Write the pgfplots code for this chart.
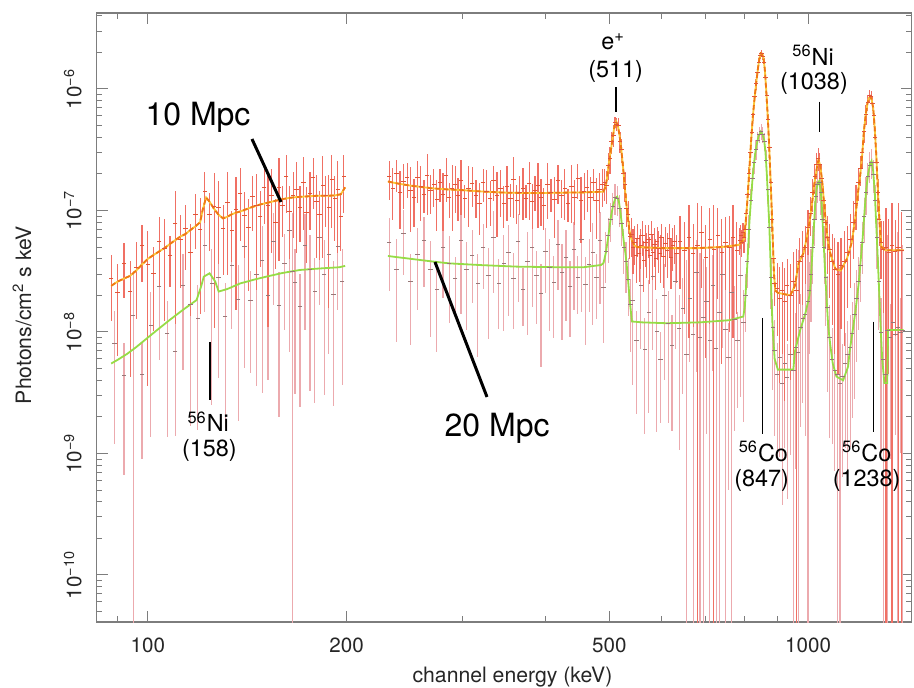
\documentclass[border=0pt]{standalone}
\usepackage{fontspec}
\setmainfont{TeX Gyre Heros}
\usepackage{pgfplots}
\usepackage{pgfplotstable}
\pgfplotsset{compat=1.18}

\definecolor{d10}{RGB}{240,112,100}
\definecolor{d10m}{RGB}{225,85,55}
\definecolor{d20}{RGB}{236,170,174}
\definecolor{d20m}{RGB}{150,120,120}
\definecolor{mod10}{RGB}{240,120,20}
\definecolor{mod10y}{RGB}{250,200,60}
\definecolor{mod20}{RGB}{150,220,70}
\definecolor{axgray}{RGB}{125,125,125}

% 10 Mpc data: E (keV), F (1e-9 photons/cm^2 s keV), s = relative error
\pgfplotstableread{
E F s
88 27.6 .55
90 21.3 .70
92 36.3 .48
94 21.5 .80
96 33.9 .62
98 51.1 .50
100 36.0 .90
102 30.1 .66
104 56.1 .58
106 49.0 .75
108 42.4 .45
110 77.5 .85
112 57.3 .60
114 71.7 .55
116 45.5 .70
118 93.2 .48
120 70.4 .80
122 144 .45
124 92 .50
126 107 .90
128 106 .66
130 70.5 .58
132 117.5 .75
134 68.8 .45
136 101.8 .85
138 139 .60
140 90.9 .55
142 72.8 .70
144 130.5 .48
146 110 .80
148 89.6 .62
150 155 .50
152 109 .90
154 132 .66
156 79.2 .58
158 153.7 .75
160 109 .45
162 189 .50
164 99 .60
166 133 .55
168 148 .70
170 106.6 .48
172 171.6 .60
174 97 .62
176 139 .50
178 186 .45
180 118.8 .66
182 92.4 .58
184 161 .75
186 132 .45
188 105.6 .85
190 179.5 .60
192 125 .55
194 150 .70
196 89.8 .48
198 189 .50
232 189 .35
235 153 .45
238 201 .30
241 140.7 .50
244 172 .40
247 186 .32
250 147 .55
253 127 .42
256 186 .38
259 156.5 .48
262 136 .30
265 192.5 .52
268 145 .36
271 164 .35
274 124 .45
277 169 .30
280 135 .50
283 194 .40
286 128 .32
289 151.5 .55
292 163 .42
295 133 .38
298 176 .48
302 124.5 .30
306 153 .52
310 167 .36
314 133 .35
318 115 .45
322 169 .30
326 142.5 .50
330 125 .40
334 177 .32
338 134 .55
342 152 .42
346 115 .38
350 157 .48
354 126 .30
358 181 .52
362 120 .36
366 142 .35
370 153 .45
374 125 .30
378 167 .50
382 118 .40
386 146 .32
390 160 .55
394 128 .42
398 111 .38
403 165 .48
408 139.5 .30
413 123 .52
418 175 .36
423 133 .35
428 151 .45
433 115 .30
438 157 .50
443 127 .40
448 183 .32
453 121 .55
458 144 .42
463 156 .38
468 128 .48
473 170 .30
478 121 .52
483 150 .36
488 164 .35
492 170 .30
495 162 .30
498 236 .25
501 266 .25
504 367 .20
507 418 .20
510 535 .10
513 514 .12
516 499 .15
519 370 .20
522 318 .22
525 202 .25
528 163 .28
531 104.5 .30
534 92 .30
537 61 .35
540 64 .35
543 50 .40
546 55 .35
549 42.5 .40
552 59 .30
555 44.5 .42
558 52 .36
561 62 .32
564 39 .45
567 55 .38
570 46.5 .40
573 58 .30
576 43 .42
579 64 .28
582 45 .40
585 53 .35
588 40 .45
591 56 .30
594 49 .38
597 44 .42
600 60 .30
604 42 .45
608 54 .36
612 46.5 .40
616 59 .30
620 41 .45
624 51.5 .38
628 56 .35
632 44 .42
640 56 .60
650 47 .70
660 60 .85
670 44 .75
680 52 1.20
690 66 .65
700 41 .85
710 58 .80
720 48 1.30
730 62 .70
740 45 .88
750 55 .60
760 50 .80
770 60 .85
780 47 .70
788 57 .25
791 62 .22
794 55 .25
797 66 .20
800 60 .25
803 70 .22
806 95 .20
810 135 .18
814 200 .15
818 300 .15
822 440 .12
826 620 .12
830 860 .10
834 1100 .10
838 1380 .08
842 1650 .08
846 1900 .07
850 1960 .07
854 1850 .07
858 1650 .08
862 1250 .10
866 880 .10
870 560 .12
874 330 .15
878 170 .18
882 85 .22
886 40 .30
890 25 .35
898 23 .60
906 19 .80
914 22 .70
922 18 .85
930 24 .65
940 20 .80
950 26 .75
960 22 1.20
970 38 .55
980 42 .60
990 50 .50
1000 72 .40
1008 95 .35
1016 140 .30
1024 190 .28
1030 240 .25
1036 270 .22
1042 240 .25
1048 185 .28
1055 120 .32
1062 80 .40
1070 60 .50
1078 48 .60
1088 38 .70
1098 33 .80
1110 30 .85
1122 35 .70
1135 38 .80
1148 45 .65
1160 58 .60
1172 80 .50
1182 115 .40
1192 170 .30
1200 220 .28
1208 300 .25
1216 450 .20
1224 620 .18
1232 780 .15
1240 880 .12
1246 860 .12
1252 760 .14
1258 600 .16
1264 400 .20
1270 250 .25
1276 140 .30
1282 85 .40
1290 55 .50
1300 48 .70
1312 50 1.10
1325 45 .90
1340 52 1.20
1355 46 .80
1370 50 1.30
1385 47 1.05
}\dten

% 20 Mpc data
\pgfplotstableread{
E F s
89 8.0 .85
92 4.4 .85
95 13.7 1.3
98 4.5 .80
101 11.4 .88
104 23.5 .75
107 9.7 .86
110 6.9 .80
113 24.3 .80
116 16.9 .90
119 13 .88
122 52 .72
125 25.2 .90
128 28 .85
131 13.5 .88
134 35 .70
137 18.6 .90
140 51 .90
143 18.3 .75
146 29.7 .88
149 39 .92
152 20 .80
155 55.7 .70
158 16.5 .88
161 37 .72
164 69 .90
165.5 31.8 2.0
167 25.6 .88
170 16.2 .85
173 52 .80
176 32.8 .90
179 21.5 .88
182 60 .72
185 30 .90
188 43.8 .85
191 20.3 .88
194 51 .70
197 26 .86
232 54.6 .60
238 33.0 .75
244 65.0 .55
250 26.0 .70
256 43.3 .65
262 56.3 .58
268 32.5 .72
274 22.6 .70
280 50.0 .62
286 36.7 .68
292 27.4 .50
298 56.3 .75
304 32.5 .68
310 43.0 .60
316 25.0 .75
322 49.7 .55
328 29.0 .70
334 59.7 .65
340 25.1 .58
346 36.5 .72
352 45.0 .70
358 27.6 .62
364 55.2 .68
370 22.4 .50
376 37.8 .75
382 49.7 .68
388 29.2 .60
394 20.6 .75
400 46.2 .55
406 34.2 .70
412 25.6 .65
418 52.9 .58
424 30.7 .72
430 40.9 .70
436 23.9 .62
442 47.7 .68
448 28.0 .50
454 58.0 .75
460 24.6 .68
466 36.2 .60
472 45.4 .75
478 28.2 .55
484 56.8 .70
490 23.4 .65
494 46 .45
498 62 .40
502 85 .35
506 108 .30
510 128 .28
514 125 .28
518 104 .30
522 78 .35
526 50 .40
530 38 .45
534 27 .50
538 17 .60
542 18.3 .80
550 8.5 .75
558 24 .70
566 7.2 .80
574 14.4 .85
582 28.6 .75
590 10.1 .85
598 5.9 .70
606 20 .80
614 11.8 .85
622 7.7 .80
630 26 .72
638 10.7 .90
646 15.5 .80
654 6.5 5.0
662 19 .70
670 9.6 1.4
678 31 .85
686 9 4.0
694 13.2 2.0
702 18 .92
710 8.5 5.0
718 24 .80
726 7.3 6.0
734 14.6 2.5
742 29.5 .75
750 10.5 3.0
758 6.2 .92
766 21 1.8
774 12.7 .88
782 8.5 .72
790 29 .90
798 12 .85
804 20 .50
809 38 .40
814 70 .30
819 120 .25
824 185 .22
829 250 .20
834 320 .18
839 380 .16
844 425 .15
849 445 .15
854 420 .15
859 370 .17
864 260 .20
869 150 .25
874 72 .30
879 28 .45
884 11 .70
890 7 .80
898 4.5 .80
906 6.2 .85
914 3.8 .90
922 5.5 .80
930 4.2 .90
940 6.5 .85
950 4.8 5.0
958 7.5 .90
966 6.8 6.0
974 11 .85
982 13 .80
990 14 .90
1000 18 3.0
1004 22 .70
1010 30 .60
1016 50 .50
1022 85 .40
1028 130 .35
1034 165 .30
1040 170 .30
1046 140 .35
1052 85 .40
1058 50 .50
1064 28 .60
1070 16 .80
1078 9 .85
1088 6 .80
1098 4.8 .85
1108 4.5 6.0
1118 3.8 8.0
1128 4.3 .85
1138 5.5 .80
1148 6.5 .90
1158 7.5 .85
1166 9.8 .80
1175 14 .80
1184 19 .70
1192 26 .60
1200 35 .50
1208 55 .45
1216 90 .40
1224 140 .35
1232 190 .30
1240 235 .28
1248 250 .28
1256 200 .30
1264 120 .35
1272 60 .45
1280 26 .60
1290 10 .90
1300 6 3.0
1310 4.5 .90
1320 10.4 5.0
1332 9 .90
1344 12 4.0
1356 9.5 .85
1368 11 5.0
1380 10 .90
1390 10.4 4.0
}\dtw

% model 10 Mpc
\pgfplotstableread{
E F
88 24
90 26
92 27.5
94 29
96 32
98 36
100 40
102 43
104 46
106 49
108 53
110 57
112 61
114 64
116 69
118 74
120 80
121 100
122.5 128
124 118
126 103
128 92
130 86
132 89
134 93
136 96
138 98
140 101
144 107
148 112
152 116
156 120
160 124
164 127
168 129
172 130
176 131
180 132
186 132
192 133
196 136
199 155
}\mtenA
\pgfplotstableread{
E F
231 173
240 166
250 160
260 156
270 152
285 149
300 147
322 143
350 140
384 139
420 140
460 141
490 143
494 160
497 200
500 260
503 320
506 400
509 490
512 540
515 500
518 420
521 330
524 240
527 170
530 120
533 90
536 70
540 58
545 52
550 50
600 49
680 49
740 50
785 52
800 58
806 90
810 130
815 220
820 380
825 600
830 850
835 1150
840 1500
844 1780
848 1970
852 1950
856 1800
860 1450
864 1000
868 650
872 400
876 220
880 120
884 60
888 30
892 22
900 21
940 20
955 24
968 37
985 45
1000 68
1008 90
1015 120
1022 165
1028 200
1033 240
1037 260
1041 245
1046 210
1052 160
1058 110
1065 75
1072 55
1080 45
1090 38
1100 33
1120 32
1145 40
1165 55
1180 90
1190 140
1200 200
1208 290
1215 450
1222 600
1230 760
1236 840
1242 870
1248 820
1255 700
1261 500
1268 300
1274 170
1280 100
1286 65
1292 50
1310 47
1395 47
}\mtenB

% model 20 Mpc
\pgfplotstableread{
E F
88 5.5
90 5.9
93 6.6
96 7.5
100 9
104 10.7
108 12.6
113 15.2
118.5 18.3
120.5 24
121.5 28.5
124 30.4
126.5 26
128 21.5
132 22.6
138 25.1
145 27
151 28.5
160 30.6
170 32.4
182 33.3
195 34.1
199 35
}\mtwA
\pgfplotstableread{
E F
231 42.2
250 40
270 38
286 36.7
320 35.5
362 34.5
420 34.1
457 34.1
486 35.6
490 37
494 45
498 60
503 90
507 112
511 127
514 130
517 118
520 95
523 72
526 55
529 44
531 36.7
534 26
537 18
541 12.2
560 12
611 11.8
686 12
760 12.5
798 13.4
802 16
806 25
810 40
815 80
820 130
825 200
830 270
835 340
841 405
848 446
853 425
858 380
862 300
866 200
870 120
874 70
877 40
880 20
883 12
886 8.6
890 6
900 4.9
950 4.9
955 6.9
973 10.4
991 14.3
1005 20
1009 25
1015 45
1020 70
1025 110
1030 150
1035 170
1040 175
1046 140
1050 100
1055 60
1061 32
1067 18.3
1073 11
1080 8
1090 5.5
1104 4.3
1130 4.0
1150 5.2
1156 6.9
1167 9.8
1180 15
1193 25
1202 40
1210 60
1218 100
1225 150
1233 200
1241 240
1248 255
1255 210
1262 140
1268 80
1274 45
1280 25
1287 12
1295 6
1305 3.8
1318 3.8
1322 10.4
1395 10.4
}\mtwB

\begin{document}
\begin{tikzpicture}
\useasboundingbox (-48.25pt,-33pt) rectangle (408.75pt,311pt);
\begin{axis}[
  scale only axis, width=407.6pt, height=304.5pt,
  xmode=log, ymode=log,
  xmin=83.6, xmax=1435.6, ymin=4.1e-11, ymax=4.22e-6,
  xtick={100,200,500,1000}, xticklabels={100,200,500,1000},
  minor xtick={90,300,400,600,700,800,900},
  ytick={1e-10,1e-9,1e-8,1e-7,1e-6},
  yticklabels={10\textsuperscript{−10},10\textsuperscript{−9},10\textsuperscript{−8},10\textsuperscript{−7},10\textsuperscript{−6}},
  minor ytick={5e-11,6e-11,7e-11,8e-11,9e-11,2e-10,3e-10,4e-10,5e-10,6e-10,7e-10,8e-10,9e-10,2e-9,3e-9,4e-9,5e-9,6e-9,7e-9,8e-9,9e-9,2e-8,3e-8,4e-8,5e-8,6e-8,7e-8,8e-8,9e-8,2e-7,3e-7,4e-7,5e-7,6e-7,7e-7,8e-7,9e-7,2e-6,3e-6,4e-6},
  tick align=inside,
  major tick length=5.5pt, minor tick length=2.8pt,
  tick style={axgray, line width=0.5pt},
  axis line style={axgray, line width=0.6pt},
  tick label style={font=\fontsize{10.3}{12}\selectfont, text=black!85},
  xticklabel style={anchor=north, inner ysep=7.8pt},
  yticklabel style={rotate=90, anchor=south, inner ysep=7.25pt},
]
% 20 Mpc data
\addplot[only marks, mark=-, mark size=1.1pt, mark options={draw=d20m, line width=0.4pt},
  error bars/.cd, y dir=both, y explicit, error mark=none,
  error bar style={draw=d20, line width=0.6pt}]
  table[x=E, y expr=\thisrow{F}*1e-9,
        y error plus expr={\thisrow{F}*1e-9*\thisrow{s}},
        y error minus expr={\thisrow{F}*1e-9*min(\thisrow{s},0.9999)}] {\dtw};
% 10 Mpc data
\addplot[only marks, mark=-, mark size=1.1pt, mark options={draw=d10m, line width=0.45pt},
  error bars/.cd, y dir=both, y explicit, error mark=none,
  error bar style={draw=d10, line width=0.6pt}]
  table[x=E, y expr=\thisrow{F}*1e-9,
        y error plus expr={\thisrow{F}*1e-9*\thisrow{s}},
        y error minus expr={\thisrow{F}*1e-9*min(\thisrow{s},0.9999)}] {\dten};
% models
\addplot[mod20, line width=0.9pt] table[x=E, y expr=\thisrow{F}*1e-9] {\mtwA};
\addplot[mod20, line width=0.9pt] table[x=E, y expr=\thisrow{F}*1e-9] {\mtwB};
\addplot[mod10y, line width=0.9pt] table[x=E, y expr=\thisrow{F}*1e-9] {\mtenA};
\addplot[mod10y, line width=0.9pt] table[x=E, y expr=\thisrow{F}*1e-9] {\mtenB};
\addplot[mod10, line width=0.9pt, dash pattern=on 2.5pt off 1.5pt] table[x=E, y expr=\thisrow{F}*1e-9] {\mtenA};
\addplot[mod10, line width=0.9pt, dash pattern=on 2.5pt off 1.5pt] table[x=E, y expr=\thisrow{F}*1e-9] {\mtenB};

% annotations
\node[font=\fontsize{16}{19}\selectfont] at (rel axis cs:0.1245,0.8292) {10 Mpc};
\draw[line width=1.5pt] (rel axis cs:0.1907,0.7931) -- (rel axis cs:0.2263,0.6897);
\node[font=\fontsize{16}{19}\selectfont] at (rel axis cs:0.4914,0.3186) {20 Mpc};
\draw[line width=1.5pt] (rel axis cs:0.4152,0.5911) -- (rel axis cs:0.4790,0.3695);

\node[font=\fontsize{11.7}{14}\selectfont] at (rel axis cs:0.6336,0.9527) {e\textsuperscript{+}};
\node[font=\fontsize{11.7}{14}\selectfont] at (rel axis cs:0.6369,0.9036) {(511)};
\draw[line width=0.8pt] (rel axis cs:0.6373,0.8785) -- (rel axis cs:0.6373,0.8374);

\node[font=\fontsize{11.7}{14}\selectfont] at (rel axis cs:0.8790,0.9310) {\textsuperscript{56}Ni};
\node[font=\fontsize{11.7}{14}\selectfont] at (rel axis cs:0.8801,0.8846) {(1038)};
\draw[line width=0.8pt] (rel axis cs:0.8867,0.8544) -- (rel axis cs:0.8867,0.8051);

\draw[line width=0.8pt] (rel axis cs:0.1392,0.4598) -- (rel axis cs:0.1392,0.3645);
\node[font=\fontsize{11.7}{14}\selectfont] at (rel axis cs:0.1370,0.3290) {\textsuperscript{56}Ni};
\node[font=\fontsize{11.7}{14}\selectfont] at (rel axis cs:0.1384,0.2824) {(158)};

\draw[line width=0.8pt] (rel axis cs:0.8170,0.4992) -- (rel axis cs:0.8170,0.3087);
\node[font=\fontsize{11.7}{14}\selectfont] at (rel axis cs:0.8180,0.2797) {\textsuperscript{56}Co};
\node[font=\fontsize{11.7}{14}\selectfont] at (rel axis cs:0.8160,0.2332) {(847)};

\draw[line width=0.8pt] (rel axis cs:0.9529,0.4931) -- (rel axis cs:0.9529,0.3125);
\node[font=\fontsize{11.7}{14}\selectfont] at (rel axis cs:0.9448,0.2797) {\textsuperscript{56}Co};
\node[font=\fontsize{11.7}{14}\selectfont] at (rel axis cs:0.9448,0.2332) {(1238)};
\end{axis}
\node[rotate=90, font=\fontsize{10.6}{12}\selectfont, text=black!85] at (-37.25pt,153.5pt) {Photons/cm\textsuperscript{2} s keV};
\node[anchor=base, font=\fontsize{10.6}{12}\selectfont, text=black!85] at (208pt,-30.5pt) {channel energy (keV)};
\end{tikzpicture}
\end{document}
